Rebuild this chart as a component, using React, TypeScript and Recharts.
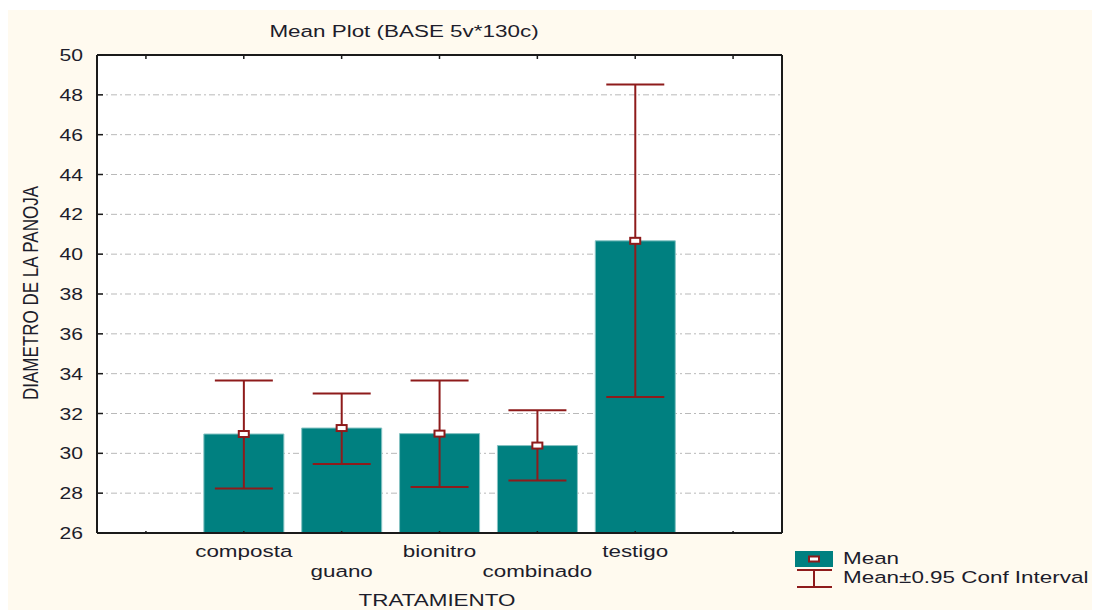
import { ComposedChart, Bar, Line, XAxis, YAxis, CartesianGrid, ErrorBar } from "recharts";

const categories = ["", "composta", "guano", "bionitro", "combinado", "testigo", ""];
const means = [null, 30.97, 31.27, 30.99, 30.39, 40.67, null];
const ciLow = [null, 28.23, 29.46, 28.31, 28.63, 32.83, null];
const ciHigh = [null, 33.66, 33.0, 33.66, 32.16, 48.52, null];
const yTicks = [26, 28, 30, 32, 34, 36, 38, 40, 42, 44, 46, 48, 50];

const data = categories.map((name, i) => ({
  name,
  mean: means[i],
  ci: means[i] == null ? null : [means[i]! - ciLow[i]!, ciHigh[i]! - means[i]!],
}));

// the reference looks horizontally stretched, so text gets a scaleX
const SX = 1.32;
const FONT = "'Liberation Sans', Arial, sans-serif";
const INK = "#1d1d2b";
const TEAL = "#008080";
const RED = "#8e1b1b";
const AXIS = "#1a1a1a";

const Wide = ({ x, y, anchor = "middle", size = 17, rotate, children }: any) => (
  <text
    transform={`translate(${x},${y}) scale(${SX},1)${rotate ? ` rotate(${rotate})` : ""}`}
    textAnchor={anchor}
    fontFamily={FONT}
    fontSize={size}
    fill={INK}
  >
    {children}
  </text>
);

const YTick = ({ x, y, payload }: any) => (
  <Wide x={x} y={y + 6} anchor="end" size={16}>
    {payload.value}
  </Wide>
);

const XTick = ({ x, y, payload, index }: any) => {
  const lower = index % 2 === 0;
  return (
    <Wide x={x} y={y + (lower ? 44 : 24)}>
      {payload.value}
    </Wide>
  );
};

const MeanDot = ({ cx, cy, index }: any) => {
  if (cx == null || cy == null) return <g key={index} />;
  return (
    <rect key={index} x={cx - 5} y={cy - 3} width={10} height={6} fill="#fff" stroke={RED} strokeWidth={2} />
  );
};

const Empty = () => <g />;

export default function App() {
  return (
    <div style={{ position: "relative", top: 2, width: 1092, height: 602, background: "#fffaef" }}>
      <ComposedChart
        width={1092}
        height={602}
        data={data}
        margin={{ top: 40, right: 313, bottom: 0, left: 0 }}
      >
        <CartesianGrid
          xAxisId="b"
          yAxisId="l"
          vertical={false}
          fill="#ffffff"
          stroke="#b9b9b9"
          strokeDasharray="6 3 2 3"
        />
        <XAxis
          xAxisId="b"
          dataKey="name"
          height={79}
          interval={0}
          tickSize={-2}
          tickMargin={2}
          tick={<XTick />}
          axisLine={{ stroke: AXIS, strokeWidth: 2 }}
          tickLine={{ stroke: AXIS, strokeWidth: 1.5 }}
        />
        <XAxis
          xAxisId="t"
          orientation="top"
          dataKey="name"
          height={5}
          interval={0}
          tickSize={-4}
          tick={Empty}
          axisLine={{ stroke: AXIS, strokeWidth: 2 }}
          tickLine={{ stroke: AXIS, strokeWidth: 1.5 }}
        />
        <YAxis
          yAxisId="l"
          width={89}
          domain={[26, 50]}
          ticks={yTicks}
          interval={0}
          tickSize={-6}
          tickMargin={20}
          tick={<YTick />}
          axisLine={{ stroke: AXIS, strokeWidth: 2 }}
          tickLine={{ stroke: AXIS, strokeWidth: 1.5 }}
        />
        <YAxis
          yAxisId="r"
          orientation="right"
          width={5}
          domain={[26, 50]}
          ticks={yTicks}
          interval={0}
          tickSize={-6}
          tick={Empty}
          axisLine={{ stroke: AXIS, strokeWidth: 2 }}
          tickLine={{ stroke: AXIS, strokeWidth: 1.5 }}
        />
        <Bar
          xAxisId="b"
          yAxisId="l"
          dataKey="mean"
          barSize={80}
          fill={TEAL}
          stroke="#86c3c3"
          strokeWidth={1}
          isAnimationActive={false}
        >
          <ErrorBar dataKey="ci" width={29} stroke={RED} strokeWidth={2} />
        </Bar>
        <Line
          xAxisId="b"
          yAxisId="l"
          dataKey="mean"
          stroke="none"
          dot={(p: any) => <MeanDot key={p.index} {...p} />}
          activeDot={false}
          legendType="none"
          isAnimationActive={false}
        />
      </ComposedChart>

      <svg
        width={1092}
        height={602}
        style={{ position: "absolute", left: 0, top: 0, pointerEvents: "none" }}
      >
        <Wide x={396} y={26.5}>Mean Plot (BASE 5v*130c)</Wide>
        <Wide x={429} y={596}>TRATAMIENTO</Wide>
        <Wide x={30} y={283} rotate={-90}>DIAMETRO DE LA PANOJA</Wide>

        <rect x={787} y={541} width={38} height={16} fill={TEAL} />
        <rect x={801} y={546.5} width={10} height={5} fill="#fff" stroke={RED} strokeWidth={2} />
        <line x1={789} y1={560} x2={824} y2={560} stroke={RED} strokeWidth={2} />
        <line x1={806} y1={560} x2={806} y2={577} stroke={RED} strokeWidth={2} />
        <line x1={789} y1={577} x2={824} y2={577} stroke={RED} strokeWidth={2} />
        <Wide x={835} y={554} anchor="start">Mean</Wide>
        <Wide x={835} y={573} anchor="start">Mean±0.95 Conf Interval</Wide>
      </svg>
    </div>
  );
}
